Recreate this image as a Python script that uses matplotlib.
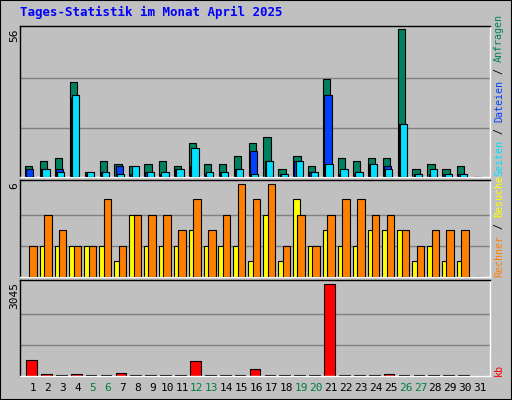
import matplotlib
matplotlib.use("Agg")
import matplotlib.pyplot as plt
import numpy as np

days = list(range(1, 32))
hits  = [4,6,7,36,2,6,5,4,5,6,4,13,5,5,8,13,15,3,8,4,37,7,6,7,7,56,3,5,3,4,0]
files = [3,3,3,30,1,2,4,1,2,1,3,4,1,2,3,10,6,1,6,2,31,1,1,5,4,20,1,1,1,1,0]
pages = [0,3,2,31,2,2,1,4,2,2,3,11,2,2,3,1,6,1,6,2,5,3,2,5,3,20,1,3,1,1,0]
visits = [0,2,2,2,2,2,1,4,2,2,2,3,2,2,2,1,4,1,5,2,3,2,2,3,3,3,1,2,1,1,0]
sites  = [2,4,3,2,2,5,2,4,4,4,3,5,3,4,6,5,6,2,4,2,4,5,5,4,4,3,2,3,3,3,0]
kb = [520,60,25,60,25,25,100,25,25,25,25,480,25,25,25,220,25,25,25,25,3045,25,25,25,60,25,25,25,25,25,0]
weekend = [5,6,12,13,19,20,26,27]
title = "Tages-Statistik im Monat April 2025"

BG = "#C0C0C0"; GRID = "#808080"
W, H = 512, 400
fig = plt.figure(figsize=(W/100, H/100), dpi=100, facecolor=BG)
mono = "DejaVu Sans Mono"

def ax_at(x0, y0, x1, y1):
    a = fig.add_axes([x0/W, 1-y1/H, (x1-x0)/W, (y1-y0)/H])
    a.set_facecolor(BG)
    a.set_xlim(0.13, 31.67)
    a.set_xticks([]); a.set_yticks([])
    for s in a.spines.values():
        s.set_color("black"); s.set_linewidth(1)
    a.spines["bottom"].set_color("white"); a.spines["right"].set_color("white")
    return a

fig.patches.append(plt.Rectangle((0, 0), 1, 1, transform=fig.transFigure, fill=False,
                                 edgecolor="black", lw=1.5))
fig.text(20/W, 1-12/H, title, color="#0000FF", fontsize=9, fontweight="bold",
         family=mono, va="center", ha="left")

x = np.array(days, dtype=float)
ec = dict(edgecolor="black", linewidth=0.8)

def grid(a, m, pad):
    a.set_ylim(0, m*pad)
    for f in (1/3, 2/3):
        a.axhline(m*f, color=GRID, lw=1, zorder=0)

a1 = ax_at(20, 26, 490, 177)
grid(a1, 56, 1.02)
a1.bar(x-0.29, hits, width=0.49, color="#008060", **ec, zorder=2)
a1.bar(x-0.21, files, width=0.49, color="#0040FF", **ec, zorder=3)
a1.bar(x-0.13, pages, width=0.49, color="#00E0FF", **ec, zorder=4)

a2 = ax_at(20, 180, 490, 277)
grid(a2, 6, 1.04)
a2.bar(x-0.3, visits, width=0.5, color="#FFFF00", **ec, zorder=2)
a2.bar(x, sites, width=0.5, color="#FF8000", **ec, zorder=3)

a3 = ax_at(20, 280, 490, 376)
grid(a3, 3045, 1.04)
a3.bar(x-0.1, kb, width=0.72, color="#FF0000", **ec, zorder=2)

for a, lbl, top in ((a1, "56", 26), (a2, "6", 180), (a3, "3045", 280)):
    fig.text(14/W, 1-(top+2)/H, lbl, rotation=90, fontsize=8, family=mono,
             ha="center", va="top")

for d in days:
    px = 20 + (d-0.13)/(31.67-0.13)*470
    fig.text(px/W, 1-388/H, str(d), fontsize=8, family=mono, ha="center", va="center",
             color="#008040" if d in weekend else "black")

fs = 7.2
cw = 0.602*fs*100/72
def vlabel(bottom, parts):
    y = bottom
    for t, c in parts:
        fig.text(499/W, 1-y/H, t, rotation=90, fontsize=fs, family=mono, color=c,
                 ha="center", va="bottom")
        y -= len(t)*cw
vlabel(176, [("Seiten", "#00E0FF"), (" / ", "black"), ("Dateien", "#0040FF"),
             (" / ", "black"), ("Anfragen", "#008060")])
vlabel(277, [("Rechner", "#FF8000"), (" / ", "black"), ("Besuche", "#FFFF00")])
vlabel(376, [("kb", "#FF0000")])

fig.savefig("out.png", dpi=100, facecolor=BG)
